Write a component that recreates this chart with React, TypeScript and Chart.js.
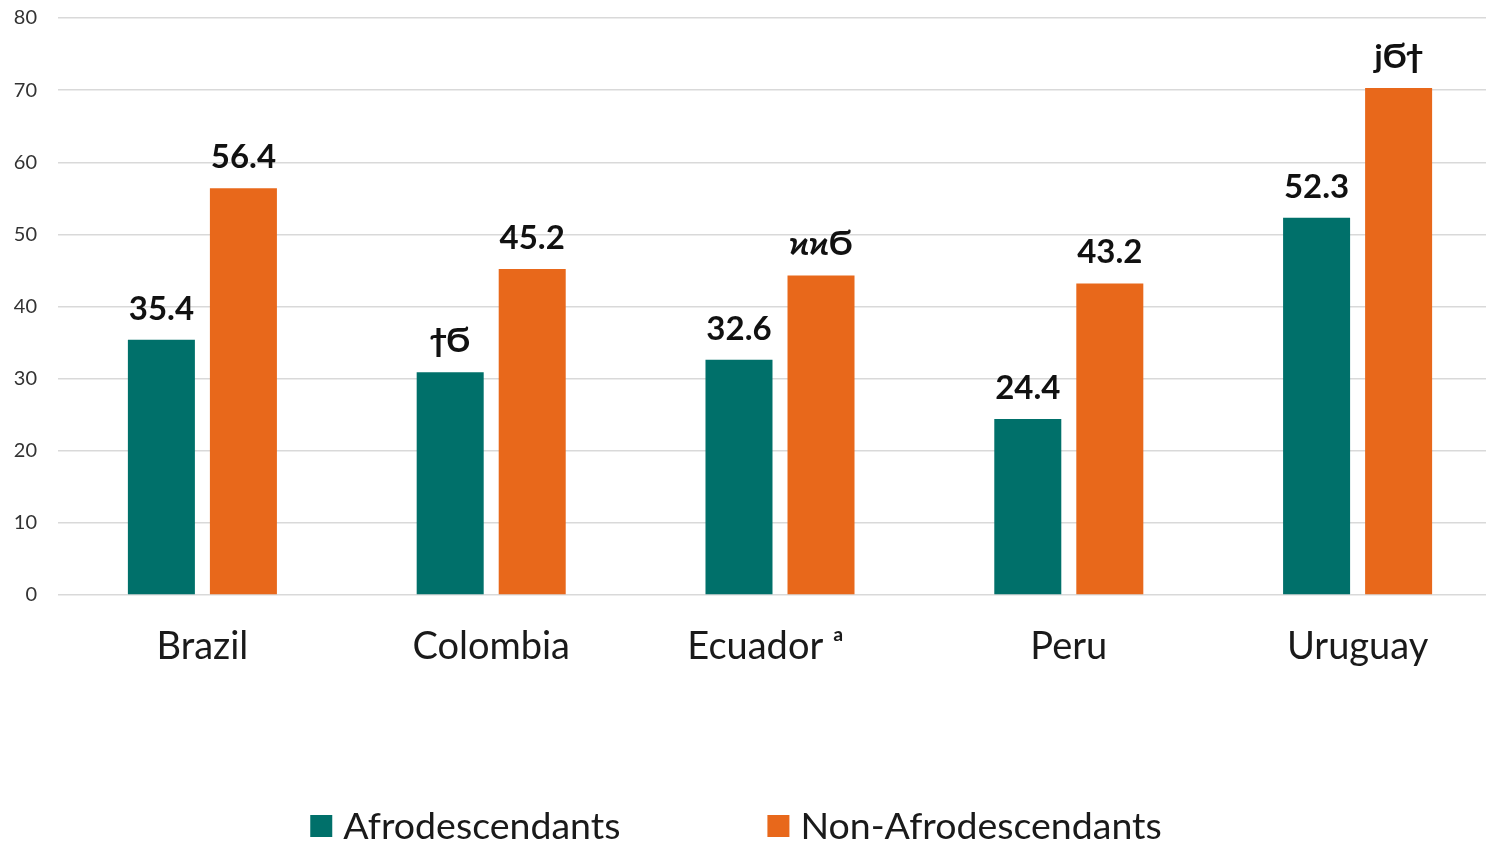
import React, { useEffect, useRef } from "react";
import { Chart, registerables } from "chart.js";

Chart.register(...registerables);

// Countries along the x axis (the trailing spaces keep the footnote mark off-centre)
const categories: string[] = ["Brazil", "Colombia", "Ecuador ᵃ   ", "Peru", "Uruguay"];

// Percentages per group
const afroValues: number[] = [35.4, 30.9, 32.6, 24.4, 52.3];
const nonAfroValues: number[] = [56.4, 45.2, 44.3, 43.2, 70.3];

// Value labels as printed above each bar (some come out in substitute glyphs)
const afroLabels: string[] = ["35.4", "ϯϬ", "32.6", "24.4", "52.3"];
const nonAfroLabels: string[] = ["56.4", "45.2", "ϰϰϬ", "43.2", "ϳϬϯ"];

const seriesNames: string[] = ["Afrodescendants", "Non-Afrodescendants"];
const seriesColors: string[] = ["#00706a", "#e8681b"];

const yTicks: number[] = [0, 10, 20, 30, 40, 50, 60, 70, 80];

const FONT = "Lato, 'Open Sans', 'DejaVu Sans', sans-serif";

// The plot runs a little past the right edge of the visible frame
const VIEW_W = 1486;
const CANVAS_W = 1502;
const CANVAS_H = 842;

// Writes the value text above every bar
const barValueLabels = {
  id: "barValueLabels",
  afterDatasetsDraw(chart: any) {
    const ctx = chart.ctx;
    const texts = [afroLabels, nonAfroLabels];
    ctx.save();
    ctx.font = `bold 33px ${FONT}`;
    ctx.fillStyle = "#111111";
    ctx.textAlign = "center";
    ctx.textBaseline = "alphabetic";
    chart.data.datasets.forEach((_: any, di: number) => {
      const meta = chart.getDatasetMeta(di);
      meta.data.forEach((bar: any, i: number) => {
        ctx.fillText(texts[di][i], bar.x, bar.y - 20);
      });
    });
    ctx.restore();
  },
};

// Legend row at the foot of the canvas
const footLegend = {
  id: "footLegend",
  afterDraw(chart: any) {
    const ctx = chart.ctx;
    const box = 22;
    const boxGap = 11;
    const itemGap = 147;
    ctx.save();
    ctx.font = `37.5px ${FONT}`;
    const widths = seriesNames.map((n) => box + boxGap + ctx.measureText(n).width);
    const total = widths.reduce((a, b) => a + b, 0) + itemGap * (seriesNames.length - 1);
    let x = VIEW_W / 2 - total / 2 - 7;
    const cy = chart.height - 16;
    ctx.textBaseline = "middle";
    ctx.textAlign = "left";
    seriesNames.forEach((name, i) => {
      ctx.fillStyle = seriesColors[i];
      ctx.fillRect(x, cy - box / 2, box, box);
      ctx.fillStyle = "#1a1a1a";
      ctx.fillText(name, x + box + boxGap, cy + 1);
      x += widths[i] + itemGap;
    });
    ctx.restore();
  },
};

export default function App() {
  const canvasRef = useRef<HTMLCanvasElement | null>(null);

  useEffect(() => {
    document.body.style.margin = "0";
    const canvas = canvasRef.current;
    if (!canvas) return;
    const chart = new Chart(canvas, {
      type: "bar",
      data: {
        labels: categories,
        datasets: [
          {
            label: seriesNames[0],
            data: afroValues,
            backgroundColor: seriesColors[0],
            categoryPercentage: 0.568,
            barPercentage: 0.817,
          },
          {
            label: seriesNames[1],
            data: nonAfroValues,
            backgroundColor: seriesColors[1],
            categoryPercentage: 0.568,
            barPercentage: 0.817,
          },
        ],
      },
      options: {
        animation: false,
        responsive: false,
        maintainAspectRatio: false,
        layout: { padding: { top: 18, right: 0, bottom: 0, left: 0 } },
        plugins: {
          legend: { display: false },
          tooltip: { enabled: false },
        },
        scales: {
          x: {
            grid: { display: false, drawTicks: false },
            border: { display: false },
            ticks: {
              padding: 29,
              color: "#1a1a1a",
              font: { family: FONT, size: 38 },
            },
            afterFit(scale: any) {
              scale.height = 247;
              scale.paddingLeft = 0;
              scale.paddingRight = 0;
            },
          },
          y: {
            min: 0,
            max: 80,
            afterBuildTicks(scale: any) {
              scale.ticks = yTicks.map((v) => ({ value: v }));
            },
            grid: { color: "#d9d9d9", lineWidth: 1.5, drawTicks: false },
            border: { display: false },
            ticks: {
              padding: 21,
              color: "#333333",
              font: { family: FONT, size: 20 },
            },
            afterFit(scale: any) {
              scale.width = 58;
              scale.paddingTop = 0;
              scale.paddingBottom = 0;
            },
          },
        },
      },
      plugins: [barValueLabels, footLegend],
    });
    return () => chart.destroy();
  }, []);

  return (
    <div style={{ width: VIEW_W, height: CANVAS_H, overflow: "hidden", background: "#ffffff" }}>
      <canvas
        ref={canvasRef}
        width={CANVAS_W}
        height={CANVAS_H}
        style={{ display: "block", width: CANVAS_W, height: CANVAS_H }}
      />
    </div>
  );
}
